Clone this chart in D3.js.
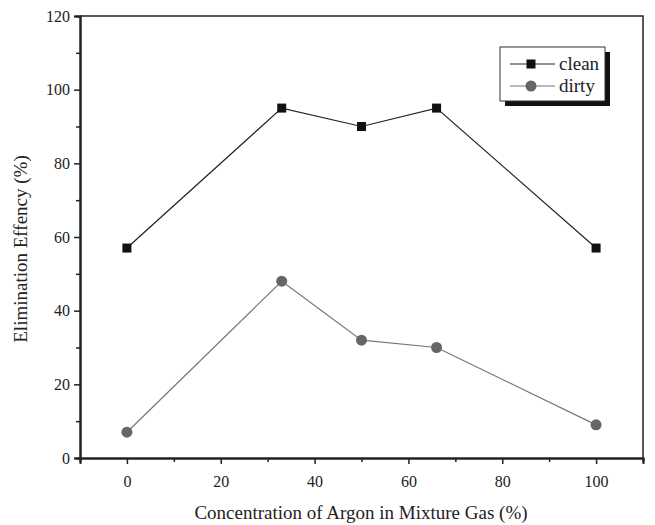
<!DOCTYPE html>
<html>
<head>
<meta charset="utf-8">
<script src="https://cdn.jsdelivr.net/npm/d3@7"></script>
<style>
    body { margin: 0; background: white; }
</style>
</head>
<body>
<div id="chart"></div>
<script>
// data
const argon = [0, 33, 50, 66, 100];
const clean = [57, 95, 90, 95, 57];
const dirty = [7, 48, 32, 30, 9];
const xTicks = [0, 20, 40, 60, 80, 100];
const yTicks = [0, 20, 40, 60, 80, 100, 120];

const width = 655, height = 525;
const plotLeft = 80, plotRight = 643, plotTop = 16, plotBottom = 458;
const serif = '"Liberation Serif", "Times New Roman", serif';

const svg = d3.select('#chart')
    .append('svg')
    .attr('width', width)
    .attr('height', height);

const x = d3.scaleLinear().domain([-10, 110]).range([plotLeft, plotRight]);
const y = d3.scaleLinear().domain([0, 120]).range([plotBottom, plotTop]);

// frame (top and right)
svg.append('path')
    .attr('d', `M${plotLeft},${plotTop}H${plotRight}V${plotBottom}`)
    .attr('fill', 'none')
    .attr('stroke', '#222')
    .attr('stroke-width', 1.5);

// x axis
const xAxis = svg.append('g')
    .attr('transform', `translate(0,${plotBottom})`)
    .call(d3.axisBottom(x).tickValues(xTicks).tickSize(6).tickPadding(9));
xAxis.append('g')
    .call(d3.axisBottom(x).tickValues([-10, 10, 30, 50, 70, 90, 110]).tickSize(4).tickFormat(''));

// y axis
const yAxis = svg.append('g')
    .attr('transform', `translate(${plotLeft},0)`)
    .call(d3.axisLeft(y).tickValues(yTicks).tickSize(6).tickPadding(4));
yAxis.append('g')
    .call(d3.axisLeft(y).tickValues([10, 30, 50, 70, 90, 110]).tickSize(4).tickFormat(''));

svg.selectAll('.domain').attr('stroke', '#222').attr('stroke-width', 2);
svg.selectAll('.tick line').attr('stroke', '#222').attr('stroke-width', 1.5);
svg.selectAll('.tick text')
    .style('font-size', '16px')
    .style('font-family', serif)
    .attr('fill', '#222');
xAxis.selectAll('.tick text').attr('dy', '0.9em');

// axis titles
svg.append('text')
    .attr('x', 361)
    .attr('y', 519)
    .attr('text-anchor', 'middle')
    .style('font-family', serif)
    .style('font-size', '19px')
    .attr('fill', '#222')
    .text('Concentration of Argon in Mixture Gas (%)');

svg.append('text')
    .attr('transform', `translate(27,${(plotTop + plotBottom) / 2 + 12}) rotate(-90)`)
    .attr('text-anchor', 'middle')
    .style('font-family', serif)
    .style('font-size', '19px')
    .attr('fill', '#222')
    .text('Elimination Effency (%)');

const line = d3.line()
    .x(d => x(d[0]))
    .y(d => y(d[1]));

const cleanPts = argon.map((a, i) => [a, clean[i]]);
const dirtyPts = argon.map((a, i) => [a, dirty[i]]);

// dirty series
svg.append('path')
    .datum(dirtyPts)
    .attr('d', line)
    .attr('fill', 'none')
    .attr('stroke', '#777')
    .attr('stroke-width', 1.2);
svg.selectAll('.dirty-dot')
    .data(dirtyPts)
    .join('circle')
    .attr('cx', d => x(d[0]))
    .attr('cy', d => y(d[1]))
    .attr('r', 5.5)
    .attr('fill', '#666')
    .classed('dirty-dot', true);

// clean series
svg.append('path')
    .datum(cleanPts)
    .attr('d', line)
    .attr('fill', 'none')
    .attr('stroke', '#222')
    .attr('stroke-width', 1.2);
const sq = 9;
svg.selectAll('.clean-dot')
    .data(cleanPts)
    .join('rect')
    .attr('x', d => x(d[0]) - sq / 2)
    .attr('y', d => y(d[1]) - sq / 2)
    .attr('width', sq)
    .attr('height', sq)
    .attr('fill', '#111')
    .classed('clean-dot', true);

// legend
const lg = svg.append('g').attr('transform', 'translate(500,47)');
lg.append('rect')
    .attr('x', 5).attr('y', 5)
    .attr('width', 105).attr('height', 54)
    .attr('fill', '#111');
lg.append('rect')
    .attr('x', 0).attr('y', 0)
    .attr('width', 105).attr('height', 54)
    .attr('fill', 'white')
    .attr('stroke', '#333')
    .attr('stroke-width', 1);

const legendItems = [
    {name: 'clean', color: '#222', y: 17},
    {name: 'dirty', color: '#777', y: 39}
];
lg.selectAll('.leg-line')
    .data(legendItems)
    .join('line')
    .attr('x1', 10).attr('x2', 55)
    .attr('y1', d => d.y).attr('y2', d => d.y)
    .attr('stroke', d => d.color)
    .attr('stroke-width', 1.2)
    .classed('leg-line', true);
lg.append('rect')
    .attr('x', 31 - sq / 2).attr('y', 17 - sq / 2)
    .attr('width', sq).attr('height', sq)
    .attr('fill', '#111');
lg.append('circle')
    .attr('cx', 31).attr('cy', 39)
    .attr('r', 5.5)
    .attr('fill', '#666');
lg.selectAll('.leg-text')
    .data(legendItems)
    .join('text')
    .attr('x', 59)
    .attr('y', d => d.y + 6)
    .style('font-family', serif)
    .style('font-size', '19px')
    .attr('fill', '#222')
    .text(d => d.name)
    .classed('leg-text', true);
</script>
</body>
</html>
